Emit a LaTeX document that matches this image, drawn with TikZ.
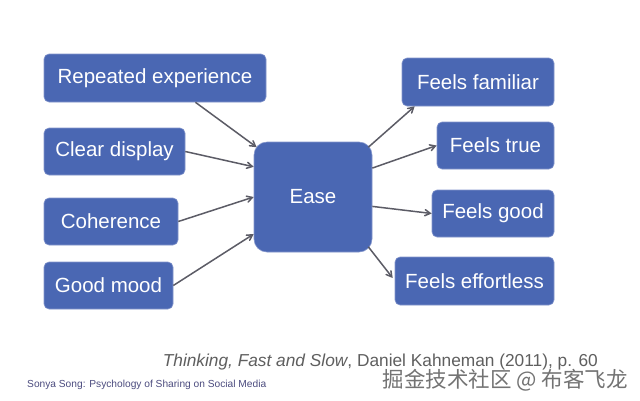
\documentclass[tikz,border=0pt]{standalone}
\usepackage{fontspec}
\setmainfont{Liberation Sans}
\newfontfamily\cjk{Noto Sans CJK SC}
\usetikzlibrary{arrows}
\definecolor{boxblue}{HTML}{4A67B3}
\definecolor{boxedge}{HTML}{8496CC}
\definecolor{arrowgray}{HTML}{5C5C66}
\definecolor{capgray}{HTML}{5F5F5F}

\begin{document}
\begin{tikzpicture}[x=1pt, y=-1pt,
  box/.style={rectangle, rounded corners=5pt, fill=boxblue, draw=boxedge, line width=0.6pt,
    text=white, inner sep=0pt, minimum height=47pt, font=\fontsize{20.5}{24}\selectfont},
  hub/.style={box, rounded corners=13pt},
  link/.style={->, >=angle 60, color=arrowgray, line width=1.5pt}]
  \useasboundingbox[fill=white] (0,0) rectangle (640,400);
  % causes
  \node[box, minimum width=222pt, minimum height=48pt] (rep) at (155,78) {Repeated experience};
  \node[box, minimum width=141pt] (clear) at (114.5,151.5) {Clear display};
  \node[box, minimum width=134pt] (coh) at (111,221.5) {Coherence};
  \node[box, minimum width=129pt] (mood) at (108.5,285.5) {Good mood};
  % centre
  \node[hub, minimum width=118pt, minimum height=110pt] (ease) at (313,197) {Ease};
  % effects
  \node[box, minimum width=152pt, minimum height=48pt] (fam) at (478,82) {Feels familiar};
  \node[box, minimum width=117pt] (true) at (495.5,145.5) {Feels true};
  \node[box, minimum width=122pt] (good) at (493,213.5) {Feels good};
  \node[box, minimum width=159pt, minimum height=48pt] (eff) at (474.5,281) {Feels effortless};
  \path[link]
  (rep.-31) edge ([xshift=3pt]ease.140)
  (clear.east) edge (ease.153)
  (coh.east) edge (ease.west)
  (mood.east) edge (ease.212)
  ([xshift=-4pt]ease.40) edge (fam.201)
  (ease.26) edge (true.west)
  (ease.-9) edge (good.west)
  ([xshift=-4pt]ease.-40) edge ([shift={(-2pt,3pt)}]eff.west)
  ;
  % source and footer
  \node[anchor=base east, text=capgray, font=\fontsize{17.3}{20}\selectfont, inner sep=0pt] (src) at (598,366)
    {\textit{Thinking, Fast and Slow}, Daniel Kahneman (2011), p. 60};
  \node[anchor=base west, text=capgray!80!blue, font=\fontsize{10.2}{12}\selectfont, inner sep=0pt] (foot) at (27,387)
    {Sonya Song: Psychology of Sharing on Social Media};
  \node[anchor=base east, text=black!55, font=\cjk\fontsize{21.5}{25}\selectfont, inner sep=0pt] (mark) at (628,387)
    {掘金技术社区 @ 布客飞龙};
\end{tikzpicture}
\end{document}
